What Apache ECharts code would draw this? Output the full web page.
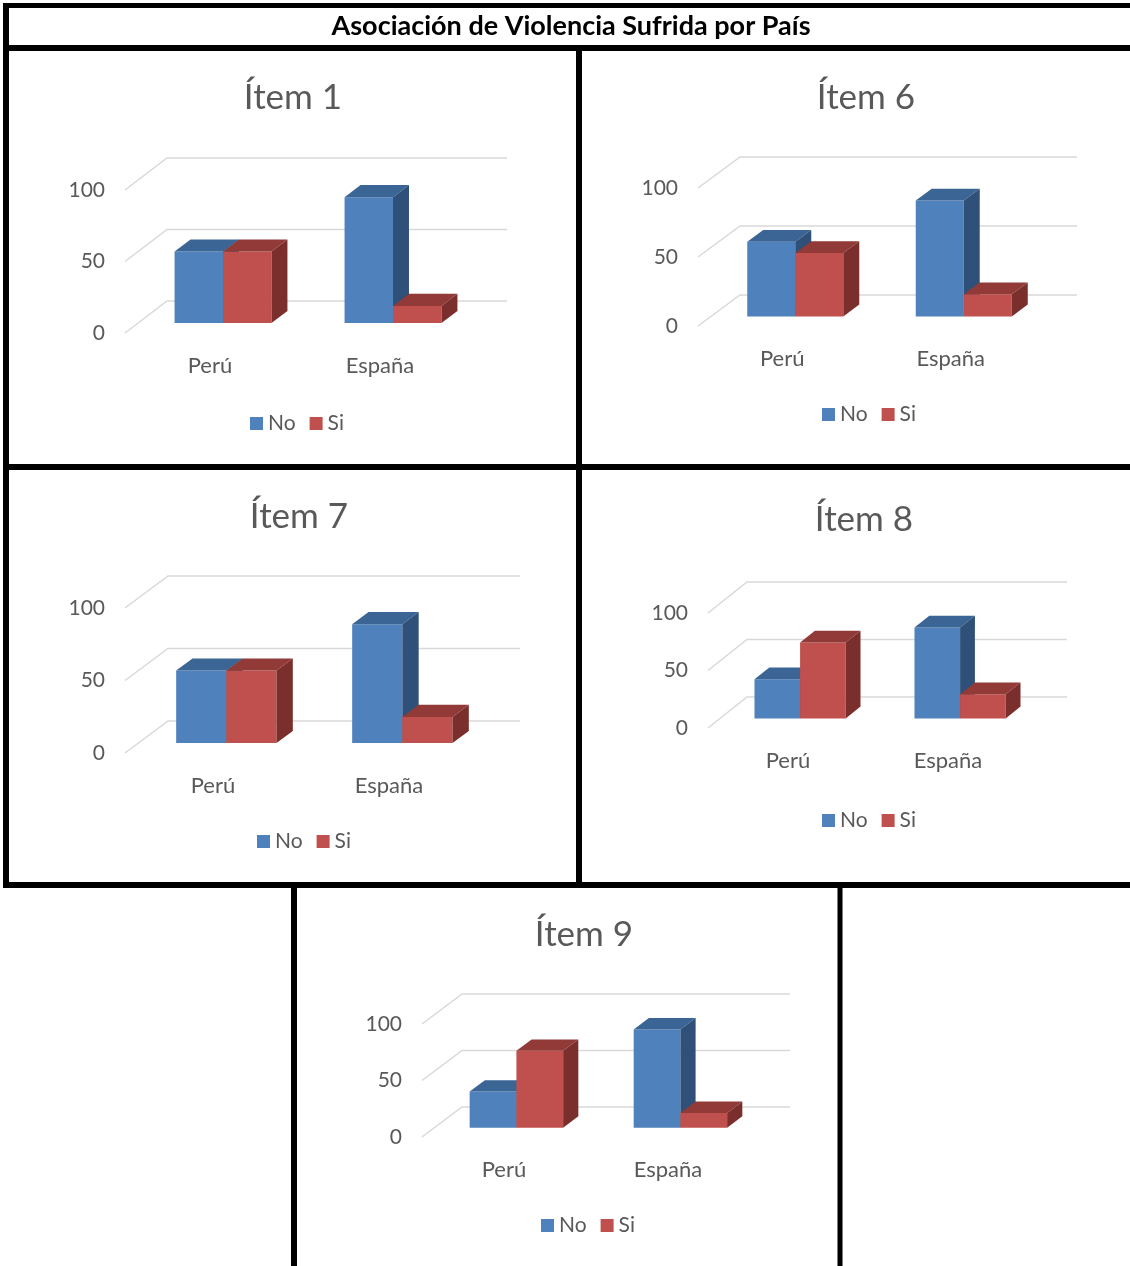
<!DOCTYPE html>
<html>
<head>
<meta charset="utf-8">
<title>Asociación de Violencia Sufrida por País</title>
<script src="https://cdn.jsdelivr.net/npm/echarts@6/dist/echarts.min.js"></script>
<style>
	html, body { margin: 0; padding: 0; background: #fff; }
	#graficoPaises { width: 1130px; height: 1266px; }
</style>
</head>
<body>
<div id="graficoPaises"></div>
<script>
// datos (porcentaje)
var paises = ['Perú', 'España'];
var items = ['Ítem 1', 'Ítem 6', 'Ítem 7', 'Ítem 8', 'Ítem 9'];
var respuestaNo = [[50, 88], [54, 84], [50, 82], [34, 79], [32, 87]];
var respuestaSi = [[50, 12], [46, 16], [50, 18], [66, 21], [68, 13]];
var marcasEje = [0, 50, 100];

(function(window) {
	var gris = '#595959';
	var fuente = 'Lato, "Open Sans", sans-serif';
	var colorNo = ['#4f81bd', '#3b6595', '#2f5078'];
	var colorSi = ['#c0504d', '#913a37', '#7b2f2d'];

	// posicion de cada panel: plano frontal, profundidad, titulo, leyenda
	var paneles = [
		{ grid: [125, 190, 340, 143], prof: [42, -32], titulo: [293, 80], leyenda: [250, 413] },
		{ grid: [698, 188, 337, 138], prof: [42, -31], titulo: [866, 80], leyenda: [822, 404] },
		{ grid: [125, 608, 352, 145], prof: [43, -32], titulo: [299, 499], leyenda: [257, 831] },
		{ grid: [708, 613, 320, 115], prof: [39, -31], titulo: [864, 502], leyenda: [822, 810] },
		{ grid: [422, 1024, 328, 113], prof: [40, -30], titulo: [584, 917], leyenda: [541, 1215] }
	];

	//lineas de la pared del fondo
	function renderRejilla(prof) {
		return function(params, api) {
			var cs = params.coordSys;
			var y = api.coord([0, api.value(1)])[1];
			return {
				type: 'polyline',
				shape: {
					points: [[cs.x, y], [cs.x + prof[0], y + prof[1]], [cs.x + cs.width + prof[0], y + prof[1]]]
				},
				style: { stroke: '#d9d9d9', lineWidth: 1.5, fill: null }
			};
		};
	}

	//barra 3d: frente, tapa y lado
	function renderBarra(prof, lado, colores) {
		return function(params, api) {
			var cs = params.coordSys;
			var banda = cs.width / paises.length;
			var w = banda * 0.285;
			var base = api.coord([api.value(0), 0]);
			var tope = api.coord([api.value(0), api.value(1)]);
			var ox = prof[0] * 0.31, oy = prof[1] * 0.31;
			var dx = prof[0] * 0.38, dy = prof[1] * 0.38;
			var x0 = base[0] + (lado === 0 ? -w : 0) + ox;
			var x1 = x0 + w;
			var yb = base[1] + oy, yt = tope[1] + oy;
			return {
				type: 'group',
				children: [{
					type: 'rect',
					shape: { x: x0, y: yt, width: w, height: yb - yt },
					style: { fill: colores[0] }
				}, {
					type: 'polygon',
					shape: { points: [[x0, yt], [x1, yt], [x1 + dx, yt + dy], [x0 + dx, yt + dy]] },
					style: { fill: colores[1] }
				}, {
					type: 'polygon',
					shape: { points: [[x1, yt], [x1 + dx, yt + dy], [x1 + dx, yb + dy], [x1, yb]] },
					style: { fill: colores[2] }
				}]
			};
		};
	}

	function linea(x1, y1, x2, y2, ancho) {
		return {
			type: 'line',
			z: 100,
			shape: { x1: x1, y1: y1, x2: x2, y2: y2 },
			style: { stroke: '#000', lineWidth: ancho }
		};
	}

	function graficoPaises() {
		var chart = echarts.init(document.getElementById('graficoPaises'));

		var titulos = [{
			text: 'Asociación de Violencia Sufrida por País',
			left: 571,
			top: 13,
			textAlign: 'center',
			padding: 0,
			textStyle: { fontFamily: fuente, fontSize: 27, fontWeight: 'bold', color: '#000' }
		}];
		var grids = [], xAxes = [], yAxes = [], leyendas = [], series = [];

		paneles.forEach(function(p, i) {
			titulos.push({
				text: items[i],
				left: p.titulo[0],
				top: p.titulo[1],
				textAlign: 'center',
				padding: 0,
				textStyle: { fontFamily: fuente, fontSize: 35, fontWeight: 'normal', color: gris }
			});
			grids.push({ left: p.grid[0], top: p.grid[1], width: p.grid[2], height: p.grid[3] });
			xAxes.push({
				type: 'category',
				gridIndex: i,
				data: paises,
				axisLine: { show: false },
				axisTick: { show: false },
				axisLabel: { margin: 22, fontFamily: fuente, fontSize: 22, color: gris }
			});
			yAxes.push({
				type: 'value',
				gridIndex: i,
				min: 0,
				max: 100,
				interval: 50,
				splitLine: { show: false },
				axisLine: { show: false },
				axisTick: { show: false },
				axisLabel: { margin: 20, fontFamily: fuente, fontSize: 21, color: gris }
			});
			leyendas.push({
				data: ['No', 'Si'],
				left: p.leyenda[0],
				top: p.leyenda[1],
				padding: 0,
				itemWidth: 13,
				itemHeight: 13,
				itemGap: 14,
				icon: 'rect',
				textStyle: { fontFamily: fuente, fontSize: 21, color: gris }
			});
			series.push({
				type: 'custom',
				name: 'rejilla',
				xAxisIndex: i,
				yAxisIndex: i,
				z: 1,
				silent: true,
				renderItem: renderRejilla(p.prof),
				data: marcasEje.map(function(v) { return [0, v]; })
			});
			series.push({
				type: 'custom',
				name: 'No',
				xAxisIndex: i,
				yAxisIndex: i,
				z: 2,
				itemStyle: { color: colorNo[0] },
				renderItem: renderBarra(p.prof, 0, colorNo),
				data: respuestaNo[i].map(function(v, k) { return [k, v]; })
			});
			series.push({
				type: 'custom',
				name: 'Si',
				xAxisIndex: i,
				yAxisIndex: i,
				z: 3,
				itemStyle: { color: colorSi[0] },
				renderItem: renderBarra(p.prof, 1, colorSi),
				data: respuestaSi[i].map(function(v, k) { return [k, v]; })
			});
		});

		var option = {
			backgroundColor: '#fff',
			animation: false,
			title: titulos,
			grid: grids,
			xAxis: xAxes,
			yAxis: yAxes,
			legend: leyendas,
			series: series,
			graphic: {
				elements: [
					linea(3, 5.5, 1130, 5.5, 5),
					linea(6, 3, 6, 888, 6),
					linea(3, 48, 1130, 48, 6),
					linea(579, 48, 579, 885, 6),
					linea(3, 467, 1130, 467, 6),
					linea(3, 885, 1130, 885, 6),
					linea(294, 885, 294, 1266, 6),
					linea(840, 885, 840, 1266, 5)
				]
			}
		};
		chart.setOption(option);
	}

	graficoPaises();
})(window);
</script>
</body>
</html>
